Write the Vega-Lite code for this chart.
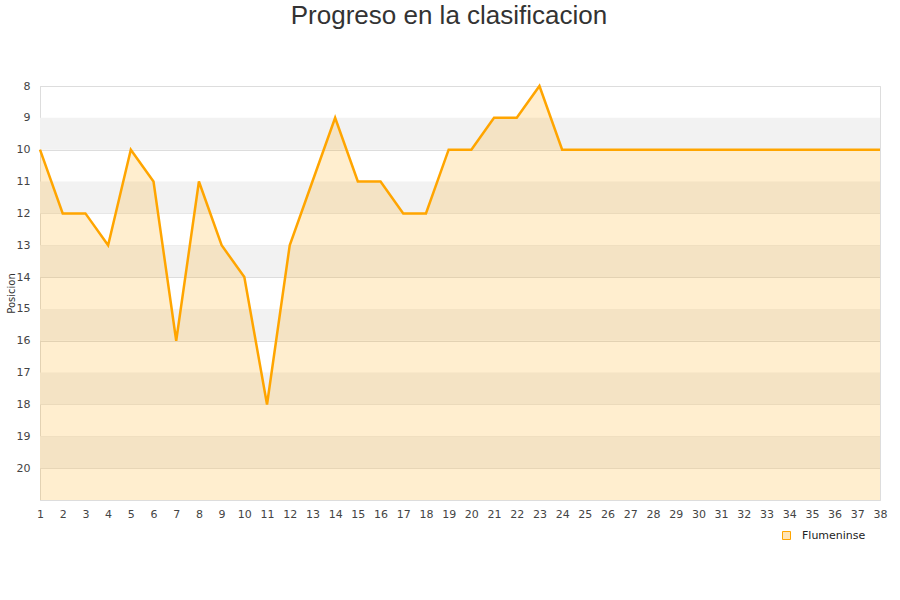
{
  "$schema": "https://vega.github.io/schema/vega-lite/v6.json",
  "width": 840,
  "height": 414,
  "autosize": {"type": "none"},
  "padding": {"left": 40, "top": 86, "right": 20, "bottom": 100},
  "background": "white",
  "title": {
    "text": "Progreso en la clasificacion",
    "font": "Liberation Sans",
    "fontSize": 26,
    "fontWeight": "normal",
    "color": "#333333",
    "anchor": "middle",
    "frame": "group",
    "dx": -11,
    "offset": 51
  },
  "config": {
    "view": {"stroke": "#dddddd", "strokeWidth": 1},
    "axis": {
      "labelFont": "DejaVu Sans",
      "labelFontSize": 11,
      "labelColor": "#444444",
      "titleFont": "DejaVu Sans",
      "titleFontSize": 10,
      "titleFontWeight": "normal",
      "titleColor": "#333333",
      "ticks": false,
      "domainColor": "#dddddd",
      "gridColor": "#dddddd",
      "labelOverlap": false
    },
    "axisX": {
      "grid": false,
      "labelPadding": 8,
      "labelFlush": false,
      "labelOverlap": false
    },
    "axisY": {
      "grid": true,
      "labelPadding": 10,
      "titlePadding": 0,
      "labelOverlap": false
    },
    "legend": {
      "symbolStrokeColor": "#888888",
      "symbolFillColor": "#ffe4b5"
    }
  },
  "datasets": {
    "bandas": [
      {"desde": 9, "hasta": 10},
      {"desde": 11, "hasta": 12},
      {"desde": 13, "hasta": 14},
      {"desde": 15, "hasta": 16},
      {"desde": 17, "hasta": 18},
      {"desde": 19, "hasta": 20}
    ],
    "serie": [
      {"jornada": 1, "posicion": 10, "equipo": "Flumeninse"},
      {"jornada": 2, "posicion": 12, "equipo": "Flumeninse"},
      {"jornada": 3, "posicion": 12, "equipo": "Flumeninse"},
      {"jornada": 4, "posicion": 13, "equipo": "Flumeninse"},
      {"jornada": 5, "posicion": 10, "equipo": "Flumeninse"},
      {"jornada": 6, "posicion": 11, "equipo": "Flumeninse"},
      {"jornada": 7, "posicion": 16, "equipo": "Flumeninse"},
      {"jornada": 8, "posicion": 11, "equipo": "Flumeninse"},
      {"jornada": 9, "posicion": 13, "equipo": "Flumeninse"},
      {"jornada": 10, "posicion": 14, "equipo": "Flumeninse"},
      {"jornada": 11, "posicion": 18, "equipo": "Flumeninse"},
      {"jornada": 12, "posicion": 13, "equipo": "Flumeninse"},
      {"jornada": 13, "posicion": 11, "equipo": "Flumeninse"},
      {"jornada": 14, "posicion": 9, "equipo": "Flumeninse"},
      {"jornada": 15, "posicion": 11, "equipo": "Flumeninse"},
      {"jornada": 16, "posicion": 11, "equipo": "Flumeninse"},
      {"jornada": 17, "posicion": 12, "equipo": "Flumeninse"},
      {"jornada": 18, "posicion": 12, "equipo": "Flumeninse"},
      {"jornada": 19, "posicion": 10, "equipo": "Flumeninse"},
      {"jornada": 20, "posicion": 10, "equipo": "Flumeninse"},
      {"jornada": 21, "posicion": 9, "equipo": "Flumeninse"},
      {"jornada": 22, "posicion": 9, "equipo": "Flumeninse"},
      {"jornada": 23, "posicion": 8, "equipo": "Flumeninse"},
      {"jornada": 24, "posicion": 10, "equipo": "Flumeninse"},
      {"jornada": 25, "posicion": 10, "equipo": "Flumeninse"},
      {"jornada": 26, "posicion": 10, "equipo": "Flumeninse"},
      {"jornada": 27, "posicion": 10, "equipo": "Flumeninse"},
      {"jornada": 28, "posicion": 10, "equipo": "Flumeninse"},
      {"jornada": 29, "posicion": 10, "equipo": "Flumeninse"},
      {"jornada": 30, "posicion": 10, "equipo": "Flumeninse"},
      {"jornada": 31, "posicion": 10, "equipo": "Flumeninse"},
      {"jornada": 32, "posicion": 10, "equipo": "Flumeninse"},
      {"jornada": 33, "posicion": 10, "equipo": "Flumeninse"},
      {"jornada": 34, "posicion": 10, "equipo": "Flumeninse"},
      {"jornada": 35, "posicion": 10, "equipo": "Flumeninse"},
      {"jornada": 36, "posicion": 10, "equipo": "Flumeninse"},
      {"jornada": 37, "posicion": 10, "equipo": "Flumeninse"},
      {"jornada": 38, "posicion": 10, "equipo": "Flumeninse"}
    ]
  },
  "layer": [
    {
      "data": {"name": "bandas"},
      "mark": {"type": "rect", "color": "#f2f2f2"},
      "encoding": {
        "y": {
          "field": "desde",
          "type": "quantitative",
          "title": "Posicion",
          "axis": {"values": [8,9,10,11,12,13,14,15,16,17,18,19,20], "labelOverlap": false}
        },
        "y2": {"field": "hasta"}
      }
    },
    {
      "data": {"name": "serie"},
      "mark": {"type": "area", "color": "#ffa500", "opacity": 0.19},
      "encoding": {
        "x": {
          "field": "jornada",
          "type": "quantitative",
          "title": null,
          "axis": {"values": [1,2,3,4,5,6,7,8,9,10,11,12,13,14,15,16,17,18,19,20,21,22,23,24,25,26,27,28,29,30,31,32,33,34,35,36,37,38], "labelOverlap": false}
        },
        "y": {
          "field": "posicion",
          "type": "quantitative",
          "title": "Posicion",
          "axis": {"values": [8,9,10,11,12,13,14,15,16,17,18,19,20], "labelOverlap": false}
        },
        "y2": {"datum": 21}
      }
    },
    {
      "data": {"name": "serie"},
      "mark": {"type": "line", "strokeWidth": 2.5},
      "encoding": {
        "x": {
          "field": "jornada",
          "type": "quantitative",
          "title": null,
          "scale": {"domain": [1, 38], "nice": false, "zero": false},
          "axis": {"values": [1,2,3,4,5,6,7,8,9,10,11,12,13,14,15,16,17,18,19,20,21,22,23,24,25,26,27,28,29,30,31,32,33,34,35,36,37,38], "labelOverlap": false}
        },
        "y": {
          "field": "posicion",
          "type": "quantitative",
          "title": "Posicion",
          "scale": {"domain": [8, 21], "reverse": true, "nice": false, "zero": false},
          "axis": {"values": [8,9,10,11,12,13,14,15,16,17,18,19,20], "labelOverlap": false}
        },
        "color": {
          "field": "equipo",
          "type": "nominal",
          "scale": {"range": ["#ffa500"]},
          "legend": {
            "title": null,
            "orient": "none",
            "legendX": 741,
            "legendY": 444,
            "symbolType": "square",
            "symbolSize": 64,
            "symbolStrokeWidth": 1,
            "labelOffset": 10,
            "labelFont": "DejaVu Sans",
            "labelFontSize": 11,
            "labelColor": "#222222",
            "encode": {
              "symbols": {
                "enter": {
                  "stroke": {"value": "#888888"},
                  "fill": {"value": "#ffe4b5"}
                },
                "update": {
                  "stroke": {"value": "#888888"},
                  "fill": {"value": "#ffe4b5"}
                }
              }
            }
          }
        }
      }
    }
  ]
}
